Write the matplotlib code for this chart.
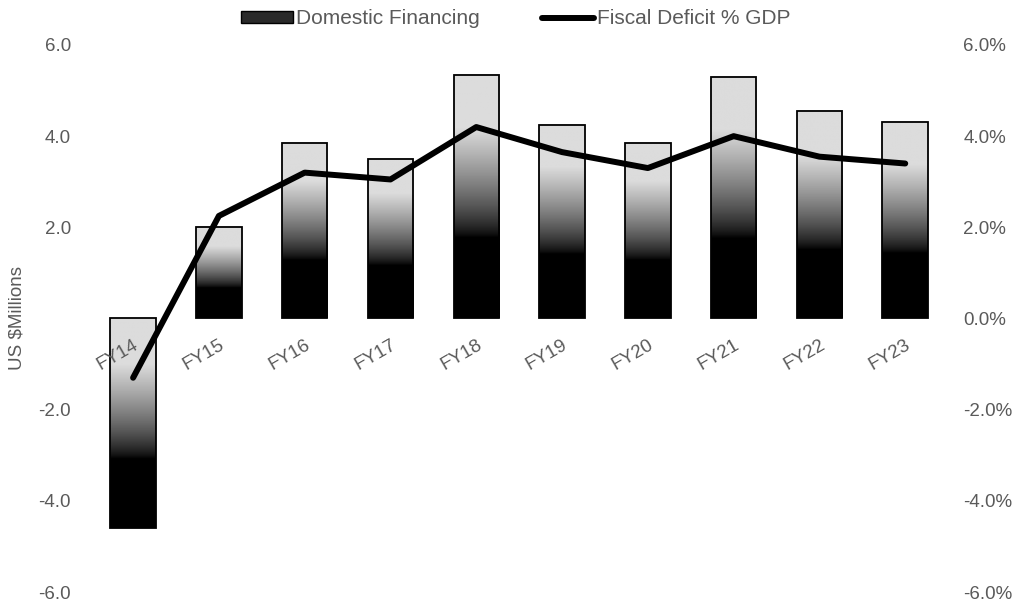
import numpy as np
import matplotlib
matplotlib.use("Agg")
import matplotlib.pyplot as plt
from matplotlib.patches import Patch
from matplotlib.lines import Line2D

# --- dane ---
years = ['FY14', 'FY15', 'FY16', 'FY17', 'FY18', 'FY19', 'FY20', 'FY21', 'FY22', 'FY23']
domestic_financing = [-4.6, 2.0, 3.85, 3.5, 5.35, 4.25, 3.85, 5.3, 4.55, 4.3]
fiscal_deficit_pct = [-1.3, 2.25, 3.2, 3.05, 4.2, 3.65, 3.3, 4.0, 3.55, 3.4]

plt.rcParams['font.family'] = ['Liberation Sans', 'DejaVu Sans']
TXT = '#5a5a5a'
FS = 13.5

fig = plt.figure(figsize=(10.25, 6.07), dpi=100)
ax = fig.add_axes([0.088, 0.0247, 0.837, 0.9012])

x = np.arange(len(years))
bar_w = 0.53

# gradient: jasny u gory, czarny u dolu
t = np.linspace(0, 1, 256)
shade = np.clip((t - 0.33) / 0.45, 0, 1) ** 0.75 * 0.86
grad = shade[::-1].reshape(-1, 1)

bars = ax.bar(x, domestic_financing, width=bar_w, facecolor='none',
              edgecolor='black', linewidth=1.3, zorder=1)
for b in bars:
    x0, w = b.get_x(), b.get_width()
    y0, h = b.get_y(), b.get_height()
    lo, hi = min(y0, y0 + h), max(y0, y0 + h)
    ax.imshow(grad, cmap='gray', vmin=0, vmax=1, aspect='auto',
              extent=[x0, x0 + w, lo, hi], zorder=0.5, interpolation='bilinear')

ax.set_xlim(-0.5, len(years) - 0.5)
ax.set_ylim(-6, 6)
left_ticks = [-6, -4, -2, 2, 4, 6]
ax.set_yticks(left_ticks)
ax.set_yticklabels([f'{v:.1f}' for v in left_ticks])
ax.set_ylabel('US $Millions', color=TXT, fontsize=FS)
ax.yaxis.set_label_coords(-0.075, 0.5)

# etykiety kategorii przy osi zero
ax.spines['bottom'].set_position(('data', 0))
ax.set_xticks(x)
ax.set_xticklabels(years, rotation=30, ha='right', rotation_mode='anchor')
ax.tick_params(axis='x', length=0, pad=13, labelsize=FS, labelcolor=TXT)
ax.tick_params(axis='y', length=0, pad=14, labelsize=FS, labelcolor=TXT)
for s in ax.spines.values():
    s.set_visible(False)

ax2 = ax.twinx()
ax2.plot(x, fiscal_deficit_pct, color='black', linewidth=4.3,
         solid_joinstyle='round', solid_capstyle='round', zorder=5)
ax2.set_ylim(-6, 6)
right_ticks = [-6, -4, -2, 0, 2, 4, 6]
ax2.set_yticks(right_ticks)
ax2.set_yticklabels([f'{v:.1f}%' for v in right_ticks])
ax2.tick_params(axis='y', length=0, pad=11, labelsize=FS, labelcolor=TXT)
for s in ax2.spines.values():
    s.set_visible(False)

handles = [Patch(facecolor='#2a2a2a', edgecolor='black', linewidth=1),
           Line2D([0], [0], color='black', linewidth=4.3, solid_capstyle='round')]
fig.legend(handles, ['Domestic Financing', 'Fiscal Deficit % GDP'],
           loc='center', bbox_to_anchor=(0.503, 0.969), ncol=2, frameon=False,
           fontsize=15, handlelength=2.5, handleheight=0.5, handletextpad=0.12,
           columnspacing=3.0, labelcolor=TXT)

fig.savefig('out.png', dpi=100)
